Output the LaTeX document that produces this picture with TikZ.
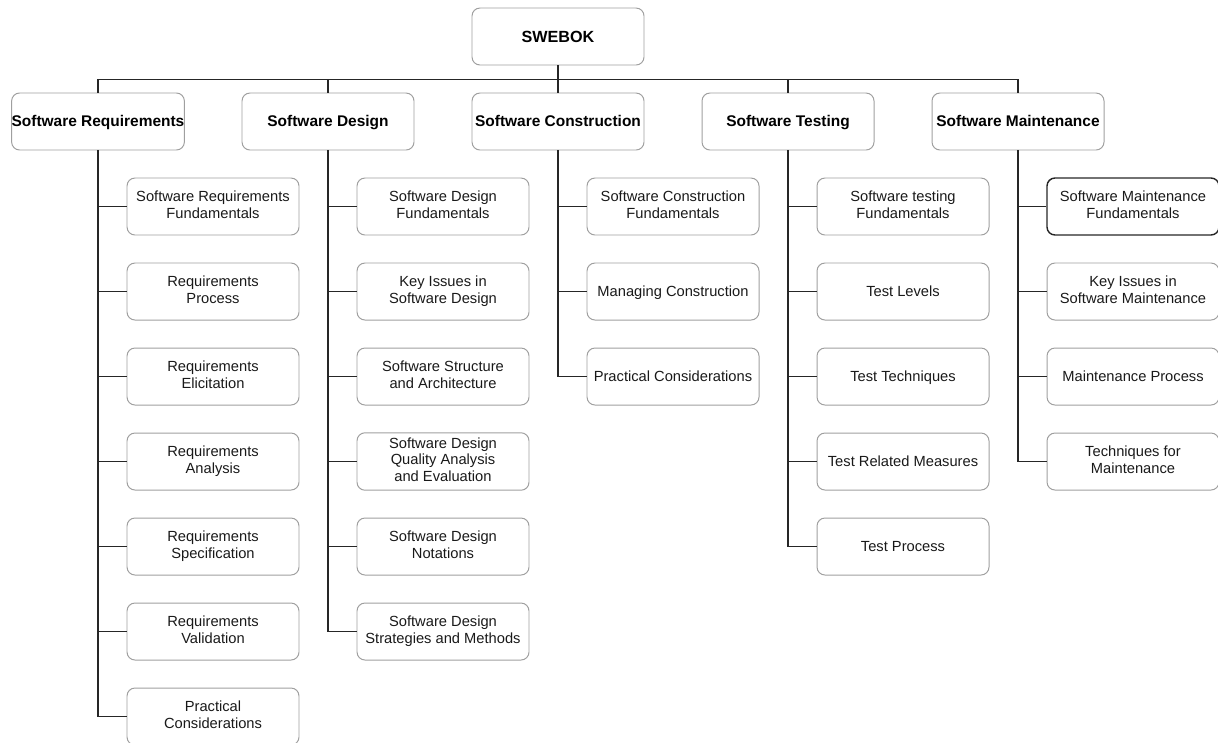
\documentclass[tikz,border=0pt]{standalone}
\usepackage{fontspec}
\setmainfont{Liberation Sans}
\usetikzlibrary{trees}
\begin{document}
\begin{tikzpicture}
[level 1/.style={level distance=2.125cm, sibling distance=5.75cm,
  edge from parent path={(\tikzparentnode.south) -- ++(0,-0.35) -| (\tikzchildnode.north)}},
level 2/.style={grow via three points={one child at (2.875,-2.125) and two children at (2.875,-2.125) and (2.875,-4.25)},
  edge from parent path={(\tikzparentnode.south) |- (\tikzchildnode.west)}},
edge from parent/.style={draw,black!85,line width=1.2pt},
box/.style={rectangle,rounded corners=0.2cm,draw=gray!75,line width=0.7pt,align=center,
  minimum width=4.3cm,minimum height=1.425cm,inner xsep=0pt,
  execute at begin node=\rule{0pt}{0.95em},execute at end node=\rule[-0.25em]{0pt}{0.25em}},
root/.style={box,font=\fontsize{11.5}{13}\selectfont\bfseries},
area/.style={box,font=\fontsize{11}{13}\selectfont\bfseries},
topic/.style={box,font=\fontsize{10.45}{12}\selectfont,text=black!90},
marked/.style={topic,draw=black!85,line width=1pt}]
\useasboundingbox (0,0) rectangle (30.45,-18.55);
\node[root] (swebok) at (13.95,-0.9125) {SWEBOK}
child{
  node[area] (req) {Software Requirements}
  child{ node[topic] (req1) {Software Requirements\\Fundamentals} }
  child{ node[topic] (req2) {Requirements\\Process} }
  child{ node[topic] (req3) {Requirements\\Elicitation} }
  child{ node[topic] (req4) {Requirements\\Analysis} }
  child{ node[topic] (req5) {Requirements\\Specification} }
  child{ node[topic] (req6) {Requirements\\Validation} }
  child{ node[topic] (req7) {Practical\\Considerations} }
}
child{
  node[area] (des) {Software Design}
  child{ node[topic] (des1) {Software Design\\Fundamentals} }
  child{ node[topic] (des2) {Key Issues in\\Software Design} }
  child{ node[topic] (des3) {Software Structure\\and Architecture} }
  child{ node[topic] (des4) {Software Design\\Quality Analysis\\and Evaluation} }
  child{ node[topic] (des5) {Software Design\\Notations} }
  child{ node[topic] (des6) {Software Design\\Strategies and Methods} }
}
child{
  node[area] (con) {Software Construction}
  child{ node[topic] (con1) {Software Construction\\Fundamentals} }
  child{ node[topic] (con2) {Managing Construction} }
  child{ node[topic] (con3) {Practical Considerations} }
}
child{
  node[area] (tst) {Software Testing}
  child{ node[topic] (tst1) {Software testing\\Fundamentals} }
  child{ node[topic] (tst2) {Test Levels} }
  child{ node[topic] (tst3) {Test Techniques} }
  child{ node[topic] (tst4) {Test Related Measures} }
  child{ node[topic] (tst5) {Test Process} }
}
child{
  node[area] (mnt) {Software Maintenance}
  child{ node[marked] (mnt1) {Software Maintenance\\Fundamentals} }
  child{ node[topic] (mnt2) {Key Issues in\\Software Maintenance} }
  child{ node[topic] (mnt3) {Maintenance Process} }
  child{ node[topic] (mnt4) {Techniques for\\Maintenance} }
};
\end{tikzpicture}
\end{document}
